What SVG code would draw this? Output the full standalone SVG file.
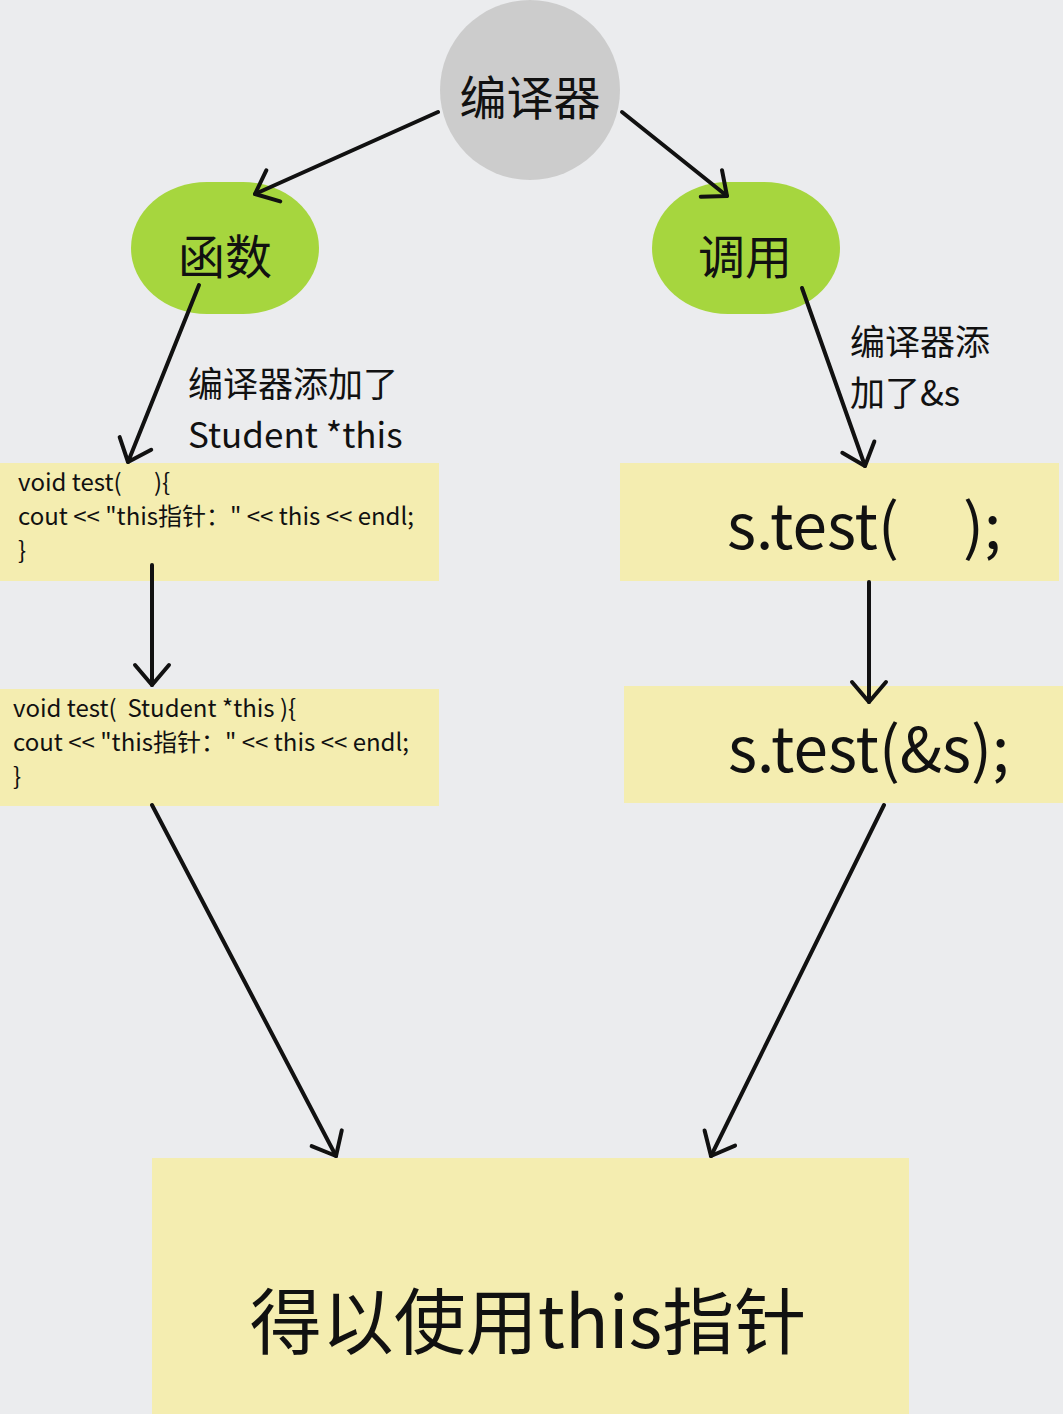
<svg xmlns="http://www.w3.org/2000/svg" width="1063" height="1414" viewBox="0 0 1063 1414">
<style>
text{font-family:"Noto Sans CJK SC","Noto Sans",sans-serif;fill:#111;white-space:pre}
.box{fill:#F4EDB0}
.pill{fill:#A6D63E}
.conn{stroke:#111;stroke-width:4;fill:none;stroke-linecap:round;marker-end:url(#arr)}
.code{font-size:24px}
.lbl{font-size:35px}
.big{font-size:62px}
</style>
<defs>
<marker id="arr" markerUnits="userSpaceOnUse" viewBox="-26 -22 32 44" refX="0" refY="0" markerWidth="32" markerHeight="44" orient="auto">
<path d="M-20,-17 L0,0 L-20,17" fill="none" stroke="#111" stroke-width="4" stroke-linecap="round" stroke-linejoin="round"/>
</marker>
</defs>
<rect width="1063" height="1414" fill="#EBECEE"/>
<g id="compiler">
<circle cx="530" cy="90" r="90" fill="#CCCCCC"/>
<text x="530" y="115" font-size="47" text-anchor="middle">编译器</text>
</g>
<g id="func">
<rect class="pill" x="131" y="182" width="188" height="132" rx="76" ry="66"/>
<text x="225" y="274" font-size="47" text-anchor="middle">函数</text>
</g>
<g id="call">
<rect class="pill" x="652" y="182" width="188" height="132" rx="76" ry="66"/>
<text x="745" y="274" font-size="47" text-anchor="middle">调用</text>
</g>
<g id="label-left">
<text class="lbl" x="188" y="397">编译器添加了</text>
<text class="lbl" x="188" y="448">Student *this</text>
</g>
<g id="label-right">
<text class="lbl" x="850" y="355">编译器添</text>
<text class="lbl" x="850" y="406">加了&amp;s</text>
</g>
<g id="code1">
<rect class="box" x="0" y="463" width="439" height="118"/>
<text class="code" x="18" y="491">void test(      ){</text>
<text class="code" x="18" y="525">cout &lt;&lt; "this指针：" &lt;&lt; this &lt;&lt; endl;</text>
<text class="code" x="18" y="559">}</text>
</g>
<g id="code2">
<rect class="box" x="0" y="689" width="439" height="117"/>
<text class="code" x="13" y="717">void test(  Student *this ){</text>
<text class="code" x="13" y="751">cout &lt;&lt; "this指针：" &lt;&lt; this &lt;&lt; endl;</text>
<text class="code" x="13" y="785">}</text>
</g>
<g id="call1">
<rect class="box" x="620" y="463" width="439" height="118"/>
<text class="big" x="727" y="549">s.test(<tspan x="963">);</tspan></text>
</g>
<g id="call2">
<rect class="box" x="624" y="686" width="439" height="117"/>
<text class="big" x="728" y="772">s.test(&amp;s);</text>
</g>
<g id="result">
<rect class="box" x="152" y="1158" width="757" height="256"/>
<text x="528" y="1348" font-size="72" text-anchor="middle">得以使用this指针</text>
</g>
<g id="connectors">
<line class="conn" x1="438" y1="112" x2="255" y2="194"/>
<line class="conn" x1="622" y1="112" x2="727" y2="196"/>
<line class="conn" x1="199" y1="285" x2="128" y2="462"/>
<line class="conn" x1="802" y1="288" x2="865" y2="466"/>
<line class="conn" x1="152" y1="565" x2="152" y2="685"/>
<line class="conn" x1="869" y1="582" x2="869" y2="702"/>
<line class="conn" x1="152" y1="805" x2="336" y2="1156"/>
<line class="conn" x1="884" y1="805" x2="711" y2="1156"/>
</g>
</svg>
